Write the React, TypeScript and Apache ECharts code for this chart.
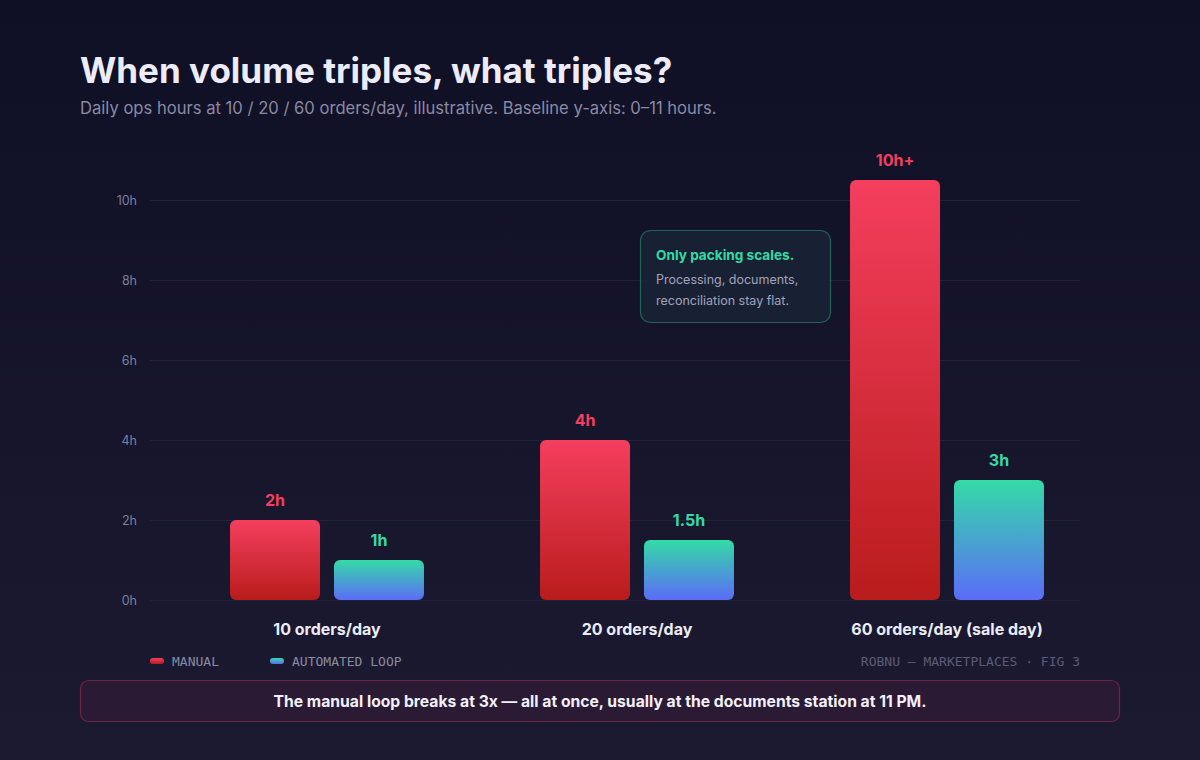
import React, { useEffect, useRef } from "react";
import * as echarts from "echarts";

const categories = ["10 orders/day", "20 orders/day", "60 orders/day (sale day)"];
const manualHours = [2, 4, 10.5];
const automatedHours = [1, 1.5, 3];
const manualLabels = ["2h", "4h", "10h+"];
const automatedLabels = ["1h", "1.5h", "3h"];
const legendNames = ["MANUAL", "AUTOMATED LOOP"];

const FONT = "Inter, 'Noto Sans', sans-serif";
const MONO = "'DejaVu Sans Mono', monospace";

export default function App() {
  const ref = useRef<HTMLDivElement>(null);
  useEffect(() => {
    document.body.style.margin = "0";
    const chart = echarts.init(ref.current!, null, { renderer: "svg" });
    const redGrad = new echarts.graphic.LinearGradient(0, 0, 0, 1, [
      { offset: 0, color: "#f43f5e" },
      { offset: 1, color: "#b91c1c" },
    ]);
    const tealGrad = new echarts.graphic.LinearGradient(0, 0, 0, 1, [
      { offset: 0, color: "#34dba6" },
      { offset: 1, color: "#5b6cf8" },
    ]);
    const tealGradH = new echarts.graphic.LinearGradient(0, 0, 0, 1, [
      { offset: 0, color: "#34dba6" },
      { offset: 1, color: "#5b6cf8" },
    ]);
    chart.setOption({
      animation: false,
      backgroundColor: new echarts.graphic.LinearGradient(0, 0, 0, 1, [
        { offset: 0, color: "#0f0f26" },
        { offset: 1, color: "#1b1a31" },
      ]),
      textStyle: { fontFamily: FONT },
      grid: [
        { left: 150, right: 120, top: 200, bottom: 160 },
        { left: 172, right: 98, top: 160, bottom: 160 },
      ],
      xAxis: [
        { type: "category", gridIndex: 0, data: categories, show: false },
        {
          type: "category",
          gridIndex: 1,
          data: categories,
          axisLine: { show: false },
          axisTick: { show: false },
          axisLabel: {
            margin: 21,
            color: "#ececf6",
            fontSize: 16,
            fontWeight: "bold",
            fontFamily: FONT,
          },
        },
      ],
      yAxis: [
        {
          type: "value",
          gridIndex: 0,
          min: 0,
          max: 10,
          interval: 2,
          axisLine: { show: false },
          axisTick: { show: false },
          axisLabel: {
            formatter: (v: number) => `${v}h`,
            color: "#7f7f99",
            fontSize: 12.5,
            margin: 13,
            fontFamily: FONT,
          },
          splitLine: { lineStyle: { color: "#22223a", width: 1 } },
        },
        { type: "value", gridIndex: 1, min: 0, max: 11, show: false },
      ],
      series: [
        {
          type: "bar",
          xAxisIndex: 1,
          yAxisIndex: 1,
          data: manualHours,
          barWidth: 90,
          barGap: "15.5%",
          itemStyle: { color: redGrad, borderRadius: 6 },
          label: {
            show: true,
            position: "top",
            distance: 12,
            formatter: (p: any) => manualLabels[p.dataIndex],
            color: "#f43f5e",
            fontSize: 16,
            fontWeight: "bold",
            fontFamily: FONT,
          },
        },
        {
          type: "bar",
          xAxisIndex: 1,
          yAxisIndex: 1,
          data: automatedHours,
          barWidth: 90,
          itemStyle: { color: tealGrad, borderRadius: 6 },
          label: {
            show: true,
            position: "top",
            distance: 12,
            formatter: (p: any) => automatedLabels[p.dataIndex],
            color: "#34dba6",
            fontSize: 16,
            fontWeight: "bold",
            fontFamily: FONT,
          },
        },
      ],
      graphic: [
        {
          type: "text",
          left: 80,
          top: 52,
          style: {
            text: "When volume triples, what triples?",
            fill: "#ececf8",
            font: `bold 35px ${FONT}`,
          },
        },
        {
          type: "text",
          left: 80,
          top: 99,
          style: {
            text: "Daily ops hours at 10 / 20 / 60 orders/day, illustrative. Baseline y-axis: 0–11 hours.",
            fill: "#8a8aa3",
            font: `16.6px ${FONT}`,
          },
        },
        {
          type: "group",
          z: 50,
          children: [
            {
              type: "rect",
              z: 50,
              shape: { x: 640.5, y: 230.5, width: 190, height: 92, r: 10 },
              style: { fill: "rgba(24,33,52,0.94)", stroke: "rgba(52,219,166,0.38)", lineWidth: 1.2 },
            },
            {
              type: "text",
              z: 51,
              x: 656,
              y: 248,
              style: {
                text: "Only packing scales.",
                fill: "#34dba6",
                font: `bold 13.6px ${FONT}`,
              },
            },
            {
              type: "text",
              z: 51,
              x: 656,
              y: 269,
              style: {
                text: "Processing, documents,\nreconciliation stay flat.",
                fill: "#a3a3bb",
                font: `12.5px ${FONT}`,
                lineHeight: 21,
              },
            },
          ],
        },
        {
          type: "rect",
          shape: { x: 150, y: 658, width: 14, height: 6, r: 3 },
          style: { fill: redGrad },
        },
        {
          type: "text",
          x: 172,
          y: 655,
          style: { text: legendNames[0], fill: "#8a8aa3", font: `13px ${MONO}` },
        },
        {
          type: "rect",
          shape: { x: 270, y: 658, width: 14, height: 6, r: 3 },
          style: { fill: tealGradH },
        },
        {
          type: "text",
          x: 292,
          y: 655,
          style: { text: legendNames[1], fill: "#8a8aa3", font: `13px ${MONO}` },
        },
        {
          type: "text",
          x: 1080,
          y: 655,
          style: {
            text: "ROBNU — MARKETPLACES · FIG 3",
            fill: "#5c5c78",
            font: `13px ${MONO}`,
            align: "right",
          },
        },
        {
          type: "rect",
          shape: { x: 80.5, y: 680.5, width: 1039, height: 41, r: 8 },
          style: { fill: "#2a1a33", stroke: "#6e2444", lineWidth: 1.2 },
        },
        {
          type: "text",
          x: 600,
          y: 701,
          style: {
            text: "The manual loop breaks at 3x — all at once, usually at the documents station at 11 PM.",
            fill: "#f2f0f8",
            font: `bold 15.7px ${FONT}`,
            align: "center",
            verticalAlign: "middle",
          },
        },
      ],
    });
    return () => chart.dispose();
  }, []);
  return (
    <div
      ref={ref}
      style={{ position: "absolute", left: 0, top: 0, width: 1200, height: 760 }}
    />
  );
}
